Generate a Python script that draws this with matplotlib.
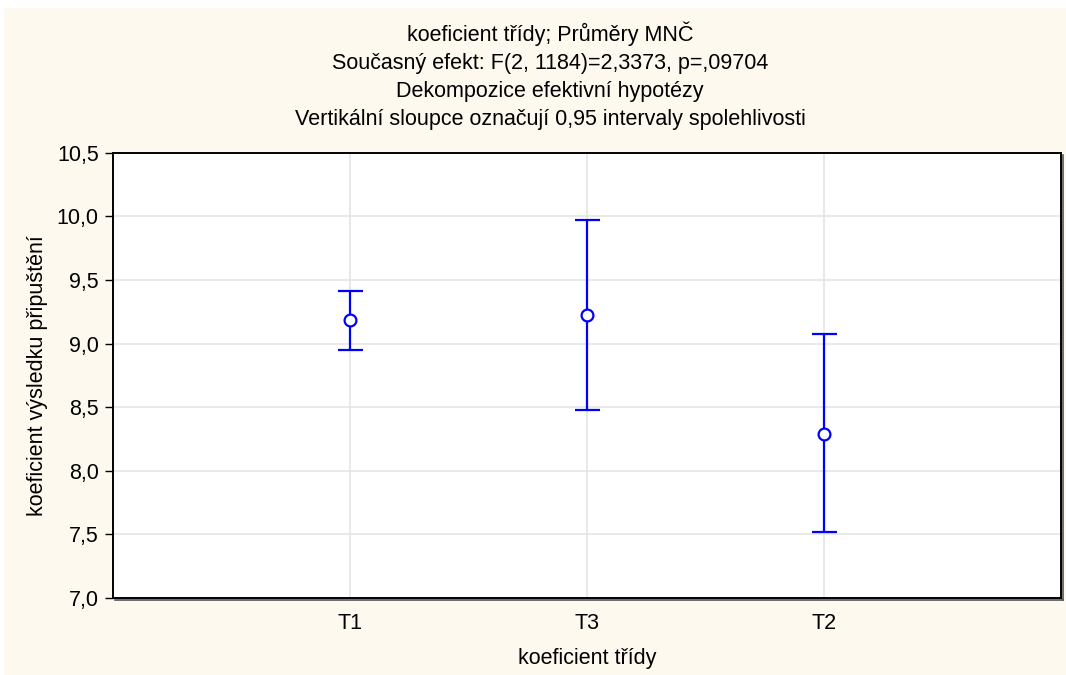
import matplotlib.pyplot as plt
from matplotlib.patches import Rectangle
from matplotlib.lines import Line2D

# --- DATOS ---
tridy = ["T1", "T3", "T2"]
prumery = [9.185, 9.222, 8.291]
horni = [9.415, 9.973, 9.073]
dolni = [8.949, 8.475, 7.519]

titulky = [
    "koeficient třídy; Průměry MNČ",
    "Současný efekt: F(2, 1184)=2,3373, p=,09704",
    "Dekompozice efektivní hypotézy",
    "Vertikální sloupce označují 0,95 intervaly spolehlivosti",
]
y_ticks = [7.0, 7.5, 8.0, 8.5, 9.0, 9.5, 10.0, 10.5]

plt.rcParams['font.family'] = ['Liberation Sans', 'DejaVu Sans']
fs = 15.5

W, H = 1066, 675
fig = plt.figure(figsize=(W / 100, H / 100), dpi=100, facecolor='white')

# kremove pozadi
bg = Rectangle((4 / W, 0), 1 - 4 / W, 1 - 7.5 / H, transform=fig.transFigure,
               facecolor='#FEF9EF', edgecolor='none', zorder=-10)
fig.patches.append(bg)

left, right, top, bottom = 112.7, 1061, 152.7, 598
ax = fig.add_axes([left / W, 1 - bottom / H, (right - left) / W, (bottom - top) / H])
ax.set_facecolor('white')

x = list(range(1, len(tridy) + 1))
err_lo = [m - d for m, d in zip(prumery, dolni)]
err_hi = [h - m for m, h in zip(prumery, horni)]
ax.errorbar(x, prumery, yerr=[err_lo, err_hi], fmt='o', color='#0000FF',
            ecolor='#0000FF', elinewidth=1.6, capsize=9, capthick=1.6,
            ms=8.5, mfc='white', mec='#0000FF', mew=1.6, zorder=3)

ax.set_xlim(0, 4)
ax.set_ylim(7.0, 10.5)
ax.set_xticks(x)
ax.set_xticklabels(tridy)
ax.set_yticks(y_ticks)
ax.set_yticklabels([f"{v:.1f}".replace('.', ',') for v in y_ticks])
ax.tick_params(axis='y', length=6, width=1, labelsize=fs, pad=4)
ax.tick_params(axis='x', length=0, labelsize=fs, pad=11)
ax.grid(True, color='#E3E3E3', linewidth=1.1, zorder=0)
ax.set_axisbelow(True)
for s in ax.spines.values():
    s.set_linewidth(1.4)
    s.set_color('black')

ax.set_xlabel("koeficient třídy", fontsize=fs, labelpad=10)
ax.set_ylabel("koeficient výsledku připuštění", fontsize=fs, labelpad=6)

# stin ramecku
fig.add_artist(Line2D([(right + 2) / W, (right + 2) / W], [1 - (top + 2) / H, 1 - (bottom + 2) / H],
                      color='#555555', lw=1.2, transform=fig.transFigure))
fig.add_artist(Line2D([(left + 2) / W, (right + 2) / W], [1 - (bottom + 2) / H, 1 - (bottom + 2) / H],
                      color='#555555', lw=1.2, transform=fig.transFigure))

# titulky
y_pos = [34, 64, 92, 120]
for t, yp in zip(titulky, y_pos):
    fig.text(550 / W, 1 - yp / H, t, ha='center', va='center', fontsize=fs)

fig.savefig("out.png", dpi=100, facecolor=fig.get_facecolor())
